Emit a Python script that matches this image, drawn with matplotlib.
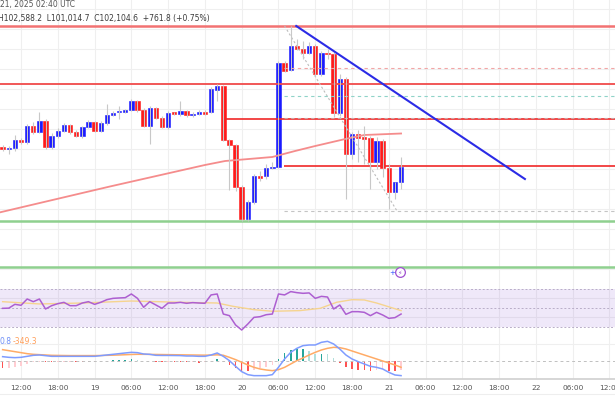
import numpy as np
import matplotlib
matplotlib.use('Agg')
import matplotlib.pyplot as plt

# hourly BTC/USD candles, hour 0 = Jan 20 00:00 UTC
hours = np.arange(-39, 27)

opens = np.array([103100, 103000, 103050, 103450, 103350, 104150,
                  103850, 104400, 103100, 103650, 103900, 104200,
                  103850, 103650, 104100, 104350, 103900, 104300,
                  104700, 104850, 104850, 104950, 105400, 104950,
                  104150, 105050, 104550, 104100, 104800, 104750,
                  104900, 104700, 104750, 104875, 104850, 105950,
                  106150, 103450, 103200, 101100, 99500, 100350,
                  101650, 101650, 102050, 102100, 107300, 106950,
                  108150, 108025, 107825, 108150, 106750, 107825,
                  107750, 104800, 106525, 102750, 103750, 103550,
                  103550, 102375, 103425, 102050, 100850, 101343])
closes = np.array([103000, 103050, 103450, 103350, 104150, 103850,
                   104400, 103100, 103650, 103900, 104200, 103850,
                   103650, 104100, 104350, 103900, 104300, 104700,
                   104800, 104860, 104950, 105400, 104950, 104150,
                   105050, 104550, 104100, 104800, 104775, 104900,
                   104700, 104775, 104875, 104775, 106000, 106150,
                   103450, 103200, 101100, 99500, 100350, 101650,
                   101575, 102050, 102125, 107325, 106925, 108150,
                   108025, 107825, 108150, 106750, 107825, 107750,
                   104800, 106525, 102750, 103750, 103550, 103525,
                   102375, 103425, 102050, 100850, 101343, 102105])
highs = np.array([103200, 103150, 103700, 103550, 104250, 104350,
                  104850, 104500, 103800, 104050, 104300, 104250,
                  103950, 104150, 104450, 104400, 104400, 105250,
                  104900, 105150, 105000, 105500, 105450, 105050,
                  105150, 105100, 104650, 104900, 104850, 105400,
                  104950, 104850, 104950, 104950, 106100, 106250,
                  106200, 103500, 103250, 101200, 100450, 101750,
                  101900, 102250, 102350, 107400, 107400, 109150,
                  108500, 108400, 108350, 108250, 107900, 108000,
                  107850, 106750, 106600, 103850, 103950, 104150,
                  103650, 103600, 103500, 102250, 101350, 102588])
lows = np.array([102900, 102750, 102900, 103250, 103250, 103750,
                 103800, 103000, 103000, 103550, 103850, 103750,
                 103600, 103550, 104050, 103850, 103850, 104200,
                 104650, 104500, 104800, 104900, 104850, 104100,
                 103250, 104500, 104050, 104000, 104700, 104650,
                 104600, 104600, 104700, 104700, 104800, 105400,
                 103400, 100950, 100900, 99400, 99400, 100250,
                 101400, 101500, 102000, 102050, 106850, 106900,
                 107950, 107500, 107750, 106650, 106650, 107500,
                 104600, 104650, 100500, 102500, 102350, 102250,
                 101000, 102000, 101600, 100000, 100500, 101015])

# 100 SMA read at a few points
ma_h = [-39.4, -21.5, -6, -2.7, 5, 8.7, 12, 16.9, 20, 26]
ma_v = [99835, 101125, 102200, 102400, 102600, 102900, 103150, 103500, 103700, 103775]

# bearish trend line
trend_h = [8.9, 46.2]
trend_v = [109150, 101500]

# fib style diagonal
fib_h = [7, 25.3]
fib_v = [109150, 99920]

rsi = [49.6, 49.8, 53.8, 52.8, 59.4, 56.6,
       59.4, 48.9, 52.4, 54.5, 55.9, 52.4,
       52.4, 55.2, 56.6, 53.8, 55.9, 58.7,
       60.1, 60.5, 60.8, 64.7, 60.1, 50.7,
       56.6, 53.1, 49.6, 55.2, 55.2, 55.9,
       54.9, 55.6, 55.2, 54.9, 63.7, 64.7,
       43.6, 41.9, 32.1, 26.8, 33.1, 40.1,
       40.8, 42.9, 43.6, 64.7, 63.7, 67.2,
       66.1, 65.4, 65.8, 60.1, 62.2, 61.5,
       48.9, 53.1, 43.3, 46.1, 46.1, 45.4,
       41.9, 45.4, 42.6, 39.1, 39.8, 43.6]
rsi_ma_h = [-39, -33, -26, -18, -9.5, -4, -1.4, 2, 5, 9.5, 12.8, 15.5, 18, 20, 22, 26]
rsi_ma_v = [56.6, 54.2, 55.2, 57.3, 55.9, 55.2, 51.7, 48.2, 46.5, 47.2, 49.6, 56.0, 58.7, 58.4, 55.2, 47.2]

macd = np.array([269, 230, 211, 230, 288, 346,
                 366, 327, 288, 288, 288, 288,
                 288, 288, 288, 288, 327, 366,
                 404, 443, 482, 520, 501, 424,
                 404, 346, 340, 340, 335, 330,
                 307, 307, 288, 288, 366, 482,
                 288, 37, -292, -601, -775, -833,
                 -833, -833, -775, -350, 134, 520,
                 752, 907, 946, 946, 1100, 1158,
                 1004, 714, 366, 134, -20, -156,
                 -292, -350, -446, -640, -794, -831])
signal = np.array([675, 617, 559, 501, 443, 404,
                   385, 366, 346, 340, 335, 330,
                   330, 330, 330, 330, 335, 346,
                   355, 366, 380, 395, 405, 405,
                   400, 395, 390, 385, 380, 375,
                   370, 365, 360, 355, 360, 375,
                   350, 230, 97, -57, -214, -350,
                   -446, -504, -543, -485, -350, -156,
                   37, 192, 366, 520, 656, 752,
                   810, 791, 714, 598, 482, 366,
                   250, 134, 17, -98, -214, -349])

tick_h = [-36, -30, -24, -18, -12, -6, 0, 6, 12, 18, 24, 30, 36, 42, 48, 54, 60]
tick_lbl = ['12:00', '18:00', '19', '06:00', '12:00', '18:00', '20', '06:00', '12:00',
            '18:00', '21', '06:00', '12:00', '18:00', '22', '06:00', '12:00']

fig = plt.figure(figsize=(6.15, 4.1), dpi=100)
H = 410.0

def pane(top, bottom):
    return fig.add_axes([0, 1 - bottom / H, 1, (bottom - top) / H])

ax = pane(0, 281)
ax_rsi = pane(281, 335)
ax_macd = pane(335, 380)
xlim = (-39.43, 60.9)

for a in (ax, ax_rsi, ax_macd):
    a.set_xlim(xlim)
    a.set_xticks(tick_h)
    a.tick_params(length=0, labelbottom=False, labelleft=False, left=False)
    for s in a.spines.values():
        s.set_visible(False)
    a.grid(True, color='#efefef', lw=0.8)
    a.set_axisbelow(True)

# ---- main pane
ax.set_ylim(96450, 110500)
ax.set_yticks(np.arange(97000, 110001, 1000))

ax.axhline(109150, color='#f27272', lw=1.8)
ax.axhline(106250, color='#f04a4a', lw=1.3)
ax.hlines(104500, -2.7, xlim[1], color='#f02828', lw=1.2)
ax.hlines(102150, 6.9, xlim[1], color='#f02828', lw=1.2)
ax.axhline(99400, color='#8fd08f', lw=1.8)
ax.axhline(97100, color='#8fd08f', lw=1.8)

dash = (0, (3, 3))
ax.hlines(107050, 6.9, xlim[1], color='#f2a6a6', lw=0.8, ls=dash)
ax.hlines(105650, 6.9, xlim[1], color='#8fd3c8', lw=0.8, ls=dash)
ax.hlines(104570, 6.9, xlim[1], color='#c9a3a3', lw=0.8, ls=dash)
ax.hlines(99920, 6.9, xlim[1], color='#c4c4c4', lw=0.8, ls=dash)
ax.plot(fib_h, fib_v, color='#bdbdbd', lw=0.8, ls=(0, (2, 2)))

ax.plot(ma_h, ma_v, color='#f58c8c', lw=1.3)

up = closes >= opens
colors = np.where(up, '#1a1aff', '#ff1a1a')
ax.vlines(hours, lows, highs, color='#c8c8c8', lw=0.8)
body_bottom = np.minimum(opens, closes)
body_h = np.maximum(np.abs(closes - opens), 70)
ax.bar(hours, body_h, bottom=body_bottom, width=0.72, color=colors,
       edgecolor=colors, lw=0.4)

ax.plot(trend_h, trend_v, color='#2b2be6', lw=1.5)

ax.plot(25.8, 96850, 'o', ms=7, mfc='white', mec='#a050d0', mew=0.9)
ax.text(25.8, 96850, '\u26a1', fontsize=4.5, color='#a050d0', ha='center', va='center')
ax.text(24.6, 96850, '+', fontsize=5, color='#3050ff', ha='center', va='center')

# ---- RSI pane
ax_rsi.set_ylim(22.6, 79.4)
ax_rsi.set_yticks([40, 60])
ax_rsi.axhspan(30, 70, color='#8e5cd6', alpha=0.14, lw=0)
for lv in (30, 50, 70):
    ax_rsi.axhline(lv, color='#b9aec8', lw=0.7, ls=(0, (2, 2)))
ax_rsi.plot(rsi_ma_h, rsi_ma_v, color='#f6d48f', lw=1.0)
ax_rsi.plot(hours, rsi, color='#ad5fd1', lw=1.1)

# ---- MACD pane
ax_macd.set_ylim(-1027, 1583)
ax_macd.set_yticks([1000])
hist = macd - signal
prev = np.r_[hist[0], hist[:-1]]
hcol = np.where(hist >= 0,
                np.where(hist >= prev, '#26a69a', '#b2dfdb'),
                np.where(hist <= prev, '#ff5252', '#ffcdd2'))
ax_macd.bar(hours, hist, width=0.25, color=hcol, lw=0)
ax_macd.axhline(0, color='#c0c0c0', lw=0.7, ls=(0, (3, 3)))
ax_macd.plot(hours, signal, color='#ffab66', lw=1.1)
ax_macd.plot(hours, macd, color='#7f9cff', lw=1.1)
ax_macd.spines['bottom'].set_visible(True)
ax_macd.spines['bottom'].set_color('#d0d0d0')
ax_macd.spines['bottom'].set_linewidth(1.2)
ax_macd.set_xticklabels(tick_lbl)
ax_macd.tick_params(labelbottom=True, labelsize=5.3, colors='#555555', pad=3.5)

fig.text(0, 1 - 342 / H, '0.8', fontsize=5.5, color='#6f8ff7', va='center')
fig.text(13 / 615, 1 - 342 / H, '-349.3', fontsize=5.5, color='#ff9f5a', va='center')

# header
fig.text(0, 1 - 5 / H, '21, 2025 02:40 UTC', fontsize=5.5, color='#555555', va='center')
fig.text(-2 / 615, 1 - 18 / H, 'H102,588.2  L101,014.7  C102,104.6  +761.8 (+0.75%)',
         fontsize=5.5, color='#3a3a3a', va='center')

fig.add_artist(plt.Line2D([0, 1], [1 - 395 / H, 1 - 395 / H], color='#eeeeee', lw=0.8))

fig.savefig('out.png', dpi=100)
